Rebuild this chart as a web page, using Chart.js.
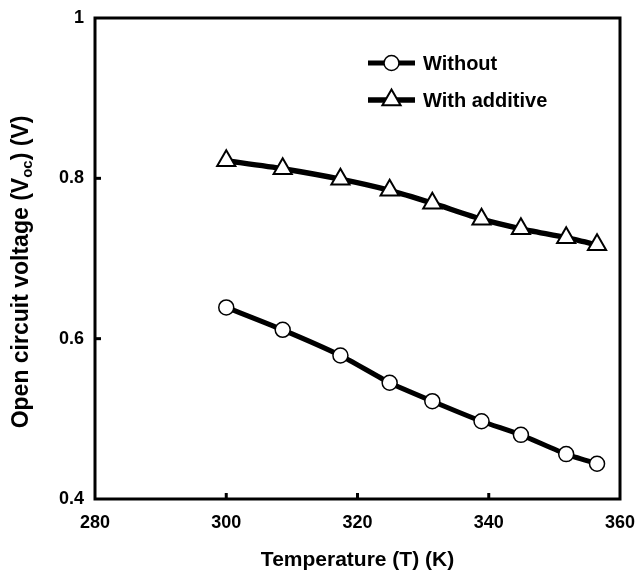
<!DOCTYPE html>
<html>
<head>
<meta charset="utf-8">
<script src="https://cdn.jsdelivr.net/npm/chart.js@4.4.0/dist/chart.umd.min.js"></script>
<style>
  body { margin: 0; background: #fff; }
</style>
</head>
<body>
<canvas id="chart" width="637" height="574"></canvas>
<script>
// values
const temps = [300, 308.6, 317.4, 324.9, 331.4, 338.9, 344.9, 351.8, 356.5];
const vocWithout = [0.639, 0.611, 0.579, 0.545, 0.522, 0.497, 0.480, 0.456, 0.444];
const vocAdditive = [0.822, 0.812, 0.799, 0.785, 0.769, 0.749, 0.737, 0.726, 0.717];
const seriesNames = ['Without', 'With additive'];
const xTicks = [280, 300, 320, 340, 360];
const yTicks = [0.4, 0.6, 0.8, 1];

const FONT = '"Liberation Sans", Arial, sans-serif';

function toPoints(xs, ys) {
  return xs.map((x, i) => ({ x: x, y: ys[i] }));
}

// frame, inward tick marks, y title with subscript and the legend inside the plot
const decor = {
  id: 'decor',
  beforeDatasetsDraw(chart) {
    const ctx = chart.ctx;
    const a = chart.chartArea;
    const xs = chart.scales.x, ys = chart.scales.y;
    ctx.save();
    ctx.strokeStyle = '#000';
    ctx.lineWidth = 3;
    ctx.strokeRect(a.left, a.top, a.right - a.left, a.bottom - a.top);
    xTicks.slice(1, -1).forEach(v => {
      const px = xs.getPixelForValue(v);
      ctx.beginPath();
      ctx.moveTo(px, a.bottom);
      ctx.lineTo(px, a.bottom - 6);
      ctx.stroke();
    });
    yTicks.slice(1, -1).forEach(v => {
      const py = ys.getPixelForValue(v);
      ctx.beginPath();
      ctx.moveTo(a.left, py);
      ctx.lineTo(a.left + 6, py);
      ctx.stroke();
    });
    ctx.restore();
  },
  afterDraw(chart) {
    const ctx = chart.ctx;
    ctx.save();
    ctx.fillStyle = '#000';

    // y axis title: Open circuit voltage (Voc) (V)
    const big = 'bold 23px ' + FONT, small = 'bold 15px ' + FONT;
    const parts = [['Open circuit voltage (V', big, 0], ['oc', small, 6], [') (V)', big, 0]];
    let total = 0;
    parts.forEach(p => { ctx.font = p[1]; total += ctx.measureText(p[0]).width; });
    ctx.translate(22, 272);
    ctx.rotate(-Math.PI / 2);
    ctx.textBaseline = 'middle';
    let cx = -total / 2;
    parts.forEach(p => {
      ctx.font = p[1];
      ctx.fillText(p[0], cx, p[2]);
      cx += ctx.measureText(p[0]).width;
    });
    ctx.setTransform(1, 0, 0, 1, 0, 0);

    // legend
    chart.data.datasets.forEach((ds, i) => {
      const y = 63 + i * 37;
      ctx.strokeStyle = ds.borderColor;
      ctx.lineWidth = ds.borderWidth;
      ctx.beginPath();
      ctx.moveTo(368, y);
      ctx.lineTo(415, y);
      ctx.stroke();
      ctx.fillStyle = ds.pointBackgroundColor;
      ctx.strokeStyle = ds.pointBorderColor;
      ctx.lineWidth = ds.pointBorderWidth;
      Chart.helpers.drawPoint(ctx, {
        pointStyle: ds.pointStyle, radius: ds.pointRadius, borderWidth: ds.pointBorderWidth, rotation: 0
      }, 391.5, y);
      ctx.fillStyle = '#000';
      ctx.font = 'bold 20px ' + FONT;
      ctx.textBaseline = 'middle';
      ctx.textAlign = 'left';
      ctx.fillText(ds.label, 423, y + 1);
    });
    ctx.restore();
  }
};

const datasets = [
  {
    label: seriesNames[0],
    data: toPoints(temps, vocWithout),
    borderColor: '#000',
    borderWidth: 5,
    pointStyle: 'circle',
    pointRadius: 7.5,
    pointBorderWidth: 1.5,
    pointBackgroundColor: '#fff',
    pointBorderColor: '#000',
    tension: 0.2
  },
  {
    label: seriesNames[1],
    data: toPoints(temps, vocAdditive),
    borderColor: '#000',
    borderWidth: 5.5,
    pointStyle: 'triangle',
    pointRadius: 10.5,
    pointBorderWidth: 2,
    pointBackgroundColor: '#fff',
    pointBorderColor: '#000',
    tension: 0.2
  }
];

new Chart(document.getElementById('chart').getContext('2d'), {
  type: 'line',
  data: { datasets: datasets },
  options: {
    responsive: false,
    animation: false,
    devicePixelRatio: 1,
    layout: { padding: { top: 18, right: 17, left: 0, bottom: 0 } },
    plugins: {
      legend: { display: false },
      tooltip: { enabled: false }
    },
    scales: {
      x: {
        type: 'linear',
        min: xTicks[0],
        max: xTicks[xTicks.length - 1],
        afterBuildTicks: s => { s.ticks = xTicks.map(v => ({ value: v })); },
        grid: { display: false, drawTicks: false },
        border: { display: false },
        ticks: {
          padding: 13,
          color: '#000',
          font: { family: FONT, size: 18, weight: 'bold' }
        },
        title: {
          display: true,
          text: 'Temperature (T) (K)',
          color: '#000',
          font: { family: FONT, size: 21, weight: 'bold', lineHeight: 1 },
          padding: { top: 0, bottom: 3 }
        },
        afterFit: s => { s.height = 75; s.paddingLeft = 0; s.paddingRight = 0; }
      },
      y: {
        type: 'linear',
        min: yTicks[0],
        max: yTicks[yTicks.length - 1],
        afterBuildTicks: s => { s.ticks = yTicks.map(v => ({ value: v })); },
        grid: { display: false, drawTicks: false },
        border: { display: false },
        ticks: {
          padding: 11,
          color: '#000',
          font: { family: FONT, size: 18, weight: 'bold' },
          callback: v => String(v)
        },
        afterFit: s => { s.width = 95; s.paddingTop = 0; s.paddingBottom = 0; }
      }
    }
  },
  plugins: [decor]
});
</script>
</body>
</html>
